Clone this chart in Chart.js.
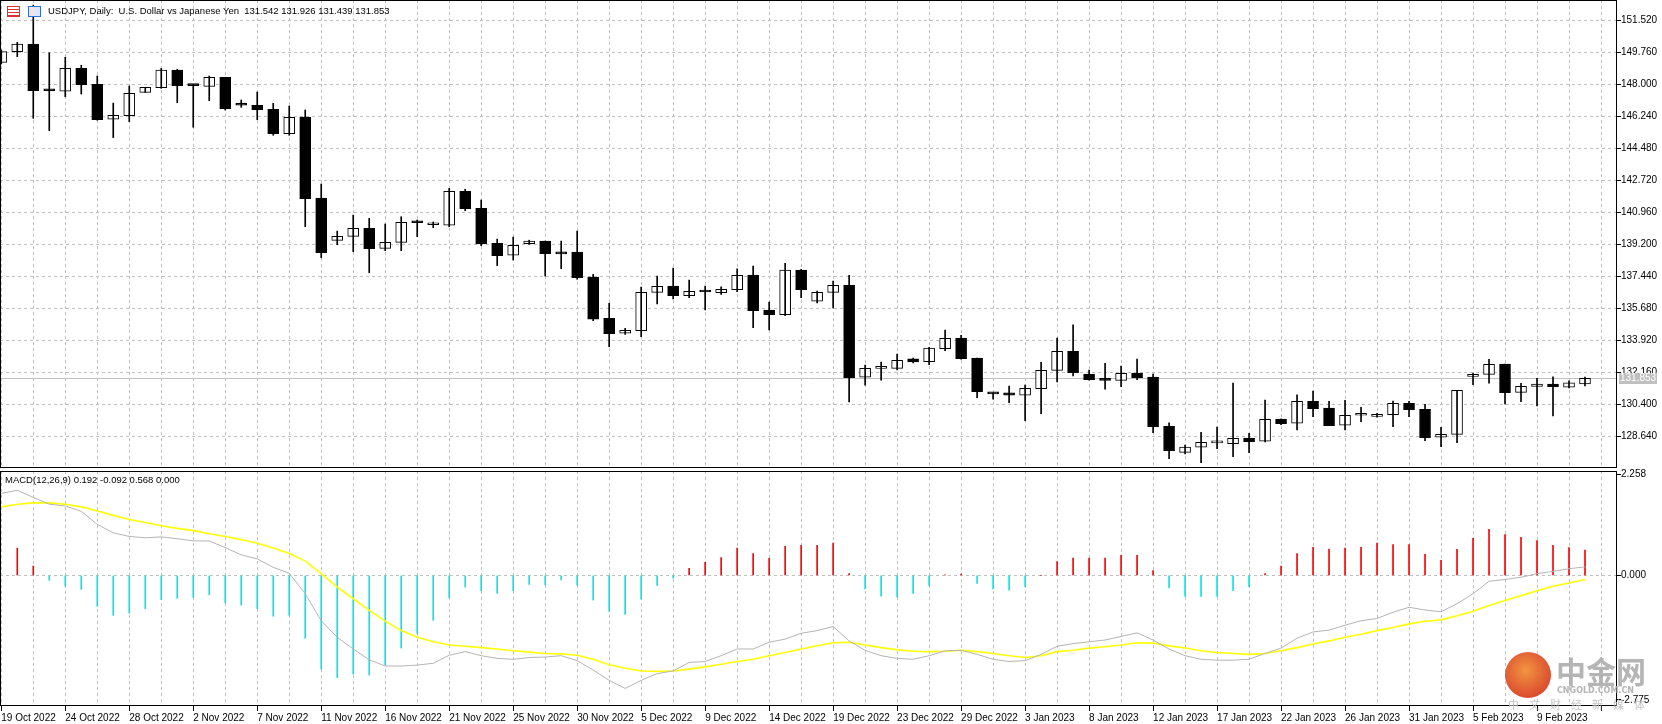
<!DOCTYPE html>
<html>
<head>
<meta charset="utf-8">
<script src="https://cdn.jsdelivr.net/npm/chart.js@4/dist/chart.umd.min.js"></script>
<style>
  body { margin: 0; background: #fff; width: 1662px; height: 724px; overflow: hidden; position: relative; font-family: "Liberation Sans", sans-serif; }
  canvas { position: absolute; left: 0; }
  #priceChart { top: 0; }
  #macdChart { top: 464px; }
  .txt { position: absolute; font-size: 9.5px; color: #000; white-space: pre; }
  .ico { position: absolute; width: 11px; height: 9px; border: 1px solid; }
  .wm { position: absolute; color: #a8a8a8; white-space: pre; opacity: .85; line-height: 1; }
</style>
</head>
<body>
<canvas id="priceChart" width="1662" height="470" style="width:1662px;height:470px"></canvas>
<canvas id="macdChart" width="1662" height="260" style="width:1662px;height:260px"></canvas>
<span class="ico" style="left:7px;top:6px;border-color:#e03030;background:repeating-linear-gradient(#fff 0 2px,#e03030 2px 3px)"></span>
<span class="ico" style="left:28px;top:6px;border-color:#3070d0;background:linear-gradient(90deg,#fbe0e0 50%,#dbe8fb 50%)"></span>
<div class="txt" style="left:48px;top:5px">USDJPY, Daily:  U.S. Dollar vs Japanese Yen  131.542 131.926 131.439 131.853</div>
<div class="txt" style="left:5px;top:474px">MACD(12,26,9) 0.192 -0.092 0.568 0.000</div>
<div style="position:absolute;left:1505px;top:652px;width:46px;height:46px;border-radius:50%;background:radial-gradient(circle at 45% 40%,#f08a2a,#d93a1a 70%);opacity:.9"></div>
<div class="wm" style="left:1556px;top:655px;font:bold 30px 'Noto Sans CJK SC';line-height:30px">中金网</div>
<div class="wm" style="left:1557px;top:687px;font:bold 8px 'DejaVu Sans';line-height:8px">CNGOLD.COM.CN</div>
<div class="wm" style="left:1508px;top:699px;font:11px 'Noto Sans CJK SC';line-height:11px;letter-spacing:10px;color:#b8b8b8">中文财经新媒体</div>
<script>
// USDJPY daily candles, 19 Oct 2022 .. 13 Feb 2023
const opens = [149.23,149.82,150.24,147.70,147.64,148.90,148.02,146.10,146.30,147.58,
  147.84,148.81,147.98,147.91,148.41,146.99,146.87,146.65,145.31,146.22,
  141.77,139.44,139.66,140.10,139.00,139.33,140.43,140.30,140.27,142.14,
  141.20,139.28,138.62,139.26,139.40,138.73,138.79,137.42,135.15,134.33,
  134.47,136.58,136.93,136.40,136.62,136.56,136.73,137.53,135.61,135.35,
  137.81,136.09,136.58,136.97,131.91,132.40,132.40,132.93,132.77,133.48,
  134.07,132.97,131.02,131.05,130.93,131.28,132.29,133.34,132.09,131.77,
  131.74,132.13,131.92,129.21,127.78,128.06,128.30,128.26,128.57,128.39,
  129.60,129.38,130.59,130.21,129.27,129.82,129.76,129.85,130.48,130.15,
  128.61,128.77,131.96,132.07,132.64,131.08,131.41,131.54,131.36,131.542];
const highs = [149.91,150.33,152.38,149.76,149.51,149.07,148.48,146.99,147.93,147.86,
  148.90,148.85,148.00,148.48,148.41,147.16,147.60,146.98,146.83,146.61,
  142.54,139.95,140.83,140.65,140.34,140.74,140.56,140.45,142.30,142.25,
  141.66,139.51,139.62,139.45,139.40,139.40,139.95,137.57,135.98,134.60,
  136.87,137.48,137.92,137.26,136.93,136.89,137.87,138.03,136.05,138.18,
  137.85,136.65,137.20,137.52,132.58,132.75,133.19,132.97,133.55,134.51,
  134.22,132.97,131.05,131.43,131.48,132.73,134.07,134.79,132.31,132.68,
  132.53,132.91,132.09,129.41,128.18,128.88,129.17,131.59,128.83,130.66,
  129.62,130.94,131.15,130.59,130.64,130.26,129.92,130.60,130.58,130.42,
  129.16,131.19,132.13,132.90,132.64,131.58,131.85,131.94,131.72,131.926];
const lows = [149.14,149.54,146.15,145.47,147.34,147.49,146.05,145.09,145.97,147.58,
  147.80,147.01,145.66,147.12,146.61,146.76,146.08,145.22,145.22,140.19,
  138.49,139.20,138.82,137.66,138.87,138.87,139.64,140.14,140.19,141.07,
  139.15,138.05,138.36,139.22,137.48,137.88,137.30,135.02,133.59,134.27,
  134.14,135.94,136.22,136.29,135.61,136.47,136.62,134.64,134.51,135.30,
  136.29,136.00,135.73,130.55,131.48,131.75,132.31,132.70,132.60,133.37,
  132.90,130.79,130.70,130.51,129.52,129.91,131.65,131.98,131.75,131.26,
  131.39,131.78,128.86,127.43,127.69,127.21,127.98,127.54,127.76,128.35,
  129.30,129.02,129.74,129.25,129.02,129.47,129.71,129.19,129.74,128.42,
  128.09,128.31,131.50,131.58,130.44,130.57,130.33,129.78,131.33,131.439];
const closes = [149.82,150.24,147.67,147.67,148.90,148.00,146.08,146.32,147.53,147.86,
  148.81,147.95,147.95,148.41,146.68,146.87,146.63,145.31,146.21,141.73,
  138.76,139.66,140.10,138.98,139.33,140.43,140.41,140.33,142.14,141.18,
  139.24,138.60,139.17,139.40,138.71,138.70,137.39,135.11,134.31,134.49,
  136.58,136.91,136.40,136.64,136.60,136.75,137.52,135.57,135.35,137.81,
  136.73,136.58,136.97,131.89,132.40,132.42,132.84,132.75,133.52,134.05,
  132.93,131.12,131.00,130.93,131.30,132.29,133.34,132.16,131.78,131.74,
  132.13,131.89,129.19,127.87,128.07,128.33,128.33,128.55,128.37,129.60,
  129.36,130.59,130.19,129.25,129.82,129.85,129.87,130.48,130.13,128.59,
  128.77,131.19,132.07,132.62,131.06,131.41,131.54,131.39,131.61,131.853];

// MACD(12,26,9) panel
const histogram = [null,0.61,0.21,-0.11,-0.24,-0.31,-0.69,-0.89,-0.84,-0.74,
  -0.54,-0.51,-0.49,-0.43,-0.61,-0.66,-0.74,-0.91,-0.89,-1.40,
  -2.09,-2.28,-2.20,-2.22,-1.99,-1.62,-1.29,-1.00,-0.50,-0.26,
  -0.34,-0.40,-0.34,-0.20,-0.21,-0.10,-0.22,-0.55,-0.80,-0.87,
  -0.53,-0.22,-0.06,0.16,0.29,0.40,0.61,0.49,0.38,0.65,
  0.67,0.67,0.72,0.04,-0.30,-0.46,-0.48,-0.40,-0.23,0.01,
  0.03,-0.18,-0.30,-0.33,-0.25,0,0.31,0.39,0.39,0.39,
  0.45,0.45,0.11,-0.28,-0.47,-0.47,-0.47,-0.34,-0.25,0.04,
  0.21,0.49,0.63,0.59,0.61,0.63,0.72,0.69,0.69,0.47,
  0.34,0.58,0.83,1.03,0.91,0.85,0.78,0.67,0.62,0.568];
const macdLine = [1.83,1.90,1.74,1.59,1.55,1.43,1.14,0.95,0.87,0.84,
  0.86,0.82,0.77,0.77,0.62,0.46,0.37,0.18,0.05,-0.41,
  -1.01,-1.38,-1.64,-1.88,-2.02,-2.02,-2.00,-1.96,-1.78,-1.70,
  -1.79,-1.85,-1.87,-1.83,-1.82,-1.79,-1.90,-2.11,-2.34,-2.52,
  -2.34,-2.19,-2.13,-1.94,-1.92,-1.79,-1.64,-1.64,-1.49,-1.42,
  -1.29,-1.23,-1.14,-1.46,-1.67,-1.79,-1.85,-1.87,-1.79,-1.68,
  -1.67,-1.76,-1.87,-1.92,-1.90,-1.76,-1.58,-1.52,-1.48,-1.44,
  -1.36,-1.28,-1.44,-1.64,-1.79,-1.87,-1.89,-1.89,-1.87,-1.74,
  -1.62,-1.40,-1.26,-1.22,-1.11,-1.01,-0.96,-0.82,-0.71,-0.77,
  -0.81,-0.63,-0.41,-0.13,-0.09,-0.04,0.04,0.09,0.15,0.192];
const signalLine = [1.53,1.59,1.62,1.62,1.59,1.53,1.44,1.34,1.25,1.18,
  1.11,1.05,1.00,0.93,0.87,0.80,0.72,0.61,0.49,0.32,
  0.04,-0.26,-0.52,-0.78,-1.02,-1.23,-1.38,-1.48,-1.55,-1.58,
  -1.61,-1.64,-1.68,-1.71,-1.74,-1.75,-1.78,-1.87,-1.99,-2.07,
  -2.13,-2.14,-2.13,-2.09,-2.04,-1.98,-1.92,-1.87,-1.79,-1.72,
  -1.64,-1.57,-1.50,-1.49,-1.55,-1.61,-1.66,-1.69,-1.70,-1.69,
  -1.67,-1.70,-1.74,-1.79,-1.83,-1.79,-1.70,-1.67,-1.62,-1.59,
  -1.55,-1.50,-1.51,-1.57,-1.62,-1.68,-1.72,-1.74,-1.76,-1.74,
  -1.68,-1.61,-1.53,-1.46,-1.38,-1.31,-1.23,-1.16,-1.08,-1.02,
  -0.99,-0.90,-0.80,-0.67,-0.56,-0.45,-0.34,-0.24,-0.17,-0.092];

// axis labels
const dateLabels = ['19 Oct 2022','24 Oct 2022','28 Oct 2022','2 Nov 2022','7 Nov 2022','11 Nov 2022',
  '16 Nov 2022','21 Nov 2022','25 Nov 2022','30 Nov 2022','5 Dec 2022','9 Dec 2022','14 Dec 2022',
  '19 Dec 2022','23 Dec 2022','29 Dec 2022','3 Jan 2023','8 Jan 2023','12 Jan 2023','17 Jan 2023',
  '22 Jan 2023','26 Jan 2023','31 Jan 2023','5 Feb 2023','9 Feb 2023'];
const priceTicks = [151.52,149.76,148.00,146.24,144.48,142.72,140.96,139.20,137.44,135.68,133.92,132.16,130.40,128.64];
const macdTicks = [2.258, 0, -2.775];
const lastPrice = 131.853;

Chart.defaults.font.family = 'Liberation Sans';
Chart.defaults.font.size = 10;
Chart.defaults.color = '#000';
Chart.defaults.animation = false;
Chart.defaults.devicePixelRatio = 1;

const GRID = '#c0c0c0';
const X_MIN = -0.08, X_MAX = 101.0;   // 16px per bar over the 1617px plot
const barTicks = [];
for (let i = 0; i <= 100; i += 2) barTicks.push(i);

function noPad(s) { s.paddingTop = 0; s.paddingBottom = 0; s.paddingLeft = 0; s.paddingRight = 0; }

// black frame round the plot area
const framePlugin = {
  id: 'frame',
  afterDraw(chart) {
    const a = chart.chartArea, ctx = chart.ctx;
    ctx.save();
    ctx.strokeStyle = '#000';
    ctx.lineWidth = 1;
    ctx.strokeRect(a.left + 0.5, a.top + 0.5, a.width - 1, a.height - 1);
    ctx.restore();
  }
};

// current bid line + its box on the price axis
const bidPlugin = {
  id: 'bid',
  beforeDatasetsDraw(chart) {
    const y = Math.round(chart.scales.y.getPixelForValue(lastPrice)) + 0.5;
    const ctx = chart.ctx, a = chart.chartArea;
    ctx.save();
    ctx.strokeStyle = '#c0c0c0';
    ctx.beginPath(); ctx.moveTo(a.left, y); ctx.lineTo(a.right, y); ctx.stroke();
    ctx.restore();
  },
  afterDraw(chart) {
    const y = Math.round(chart.scales.y.getPixelForValue(lastPrice));
    const ctx = chart.ctx, a = chart.chartArea;
    ctx.save();
    ctx.fillStyle = '#c0c0c0';
    ctx.fillRect(a.right + 2, y - 5, 38, 11);
    ctx.fillStyle = '#fff';
    ctx.font = '10px Liberation Sans';
    ctx.textBaseline = 'middle';
    ctx.fillText(lastPrice.toFixed(3), a.right + 3, y + 0.5);
    ctx.restore();
  }
};

new Chart(document.getElementById('priceChart'), {
  type: 'bar',
  data: {
    datasets: [{
      label: 'wick',
      data: lows.map((l, i) => ({ x: i, y: [l, highs[i]] })),
      backgroundColor: '#000',
      barThickness: 1,
      grouped: false
    }, {
      label: 'body',
      data: opens.map((o, i) => ({ x: i, y: [o, closes[i]] })),
      backgroundColor: ctx => closes[ctx.dataIndex] >= opens[ctx.dataIndex] ? '#fff' : '#000',
      borderColor: '#000',
      borderWidth: 1,
      borderSkipped: false,
      barThickness: 11,
      minBarLength: 2,
      grouped: false
    }]
  },
  options: {
    responsive: false,
    maintainAspectRatio: false,
    layout: { padding: 0 },
    plugins: { legend: { display: false }, tooltip: { enabled: false } },
    scales: {
      x: {
        type: 'linear', min: X_MIN, max: X_MAX, offset: false,
        afterBuildTicks: s => { s.ticks = barTicks.map(v => ({ value: v })); },
        afterFit: s => { s.height = 2; noPad(s); },
        ticks: { display: false },
        grid: { color: GRID, drawTicks: false, offset: false },
        border: { display: false, dash: [3, 3] }
      },
      y: {
        position: 'right',
        min: 126.92, max: 152.66,
        afterBuildTicks: s => { s.ticks = priceTicks.map(v => ({ value: v })); },
        afterFit: s => { s.width = 45; noPad(s); },
        ticks: { padding: 0, callback: v => v.toFixed(3) },
        grid: { color: GRID, tickColor: '#000', tickLength: 4 },
        border: { display: false, dash: [3, 3] }
      }
    }
  },
  plugins: [framePlugin, bidPlugin]
});

new Chart(document.getElementById('macdChart'), {
  data: {
    datasets: [{
      type: 'line',
      data: macdLine.map((v, i) => ({ x: i, y: v })),
      borderColor: '#b4b4b4',
      borderWidth: 1,
      pointRadius: 0
    }, {
      type: 'line',
      data: signalLine.map((v, i) => ({ x: i, y: v })),
      borderColor: '#ffff00',
      borderWidth: 1.6,
      pointRadius: 0
    }, {
      type: 'bar',
      data: histogram.map((v, i) => ({ x: i, y: v })),
      backgroundColor: ctx => (histogram[ctx.dataIndex] >= 0 ? '#ff0000' : '#00e6f0'),
      barThickness: 1,
      grouped: false
    }]
  },
  options: {
    responsive: false,
    maintainAspectRatio: false,
    layout: { padding: { top: 7 } },
    plugins: { legend: { display: false }, tooltip: { enabled: false } },
    scales: {
      x: {
        type: 'linear', min: X_MIN, max: X_MAX, offset: false,
        afterBuildTicks: s => { s.ticks = barTicks.map(v => ({ value: v })); },
        afterFit: s => { s.height = 18; noPad(s); },
        ticks: {
          align: 'start', autoSkip: false, maxRotation: 0, padding: 1,
          callback: v => (v % 4 === 0 && dateLabels[v / 4]) ? dateLabels[v / 4] : ''
        },
        grid: {
          color: GRID, offset: false,
          tickColor: ctx => (ctx.tick && ctx.tick.value % 4 === 0 ? '#000' : 'transparent'),
          tickLength: 5
        },
        border: { display: false, dash: [3, 3] }
      },
      y: {
        position: 'right',
        min: -2.912, max: 2.33,
        afterBuildTicks: s => { s.ticks = macdTicks.map(v => ({ value: v })); },
        afterFit: s => { s.width = 45; noPad(s); },
        ticks: { padding: 0, callback: v => v.toFixed(3) },
        grid: {
          color: ctx => (ctx.tick && ctx.tick.value === 0 ? GRID : 'transparent'),
          tickColor: '#000', tickLength: 4
        },
        border: { display: false, dash: [3, 3] }
      }
    }
  },
  plugins: [framePlugin]
});
</script>
</body>
</html>
